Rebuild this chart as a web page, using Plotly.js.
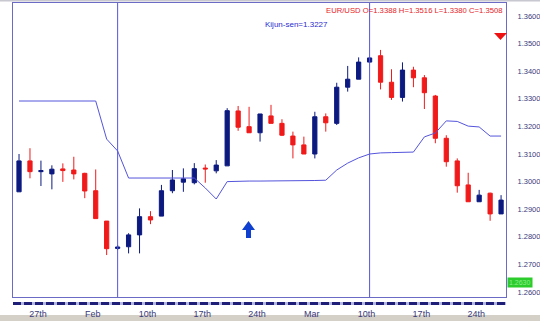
<!DOCTYPE html>
<html>
<head>
<meta charset="utf-8">
<script src="https://cdn.plot.ly/plotly-3.0.1.min.js"></script>
<style>html,body{margin:0;padding:0;background:#fff;}#chart{width:540px;height:321px;}</style>
</head>
<body>
<div id="chart"></div>
<script>
// ---- data ----
const dates = ['2003-01-23','2003-01-24','2003-01-27','2003-01-28','2003-01-29','2003-01-30','2003-01-31',
  '2003-02-03','2003-02-04','2003-02-05','2003-02-06','2003-02-07',
  '2003-02-10','2003-02-11','2003-02-12','2003-02-13','2003-02-14',
  '2003-02-17','2003-02-18','2003-02-19','2003-02-20','2003-02-21',
  '2003-02-24','2003-02-25','2003-02-26','2003-02-27','2003-02-28',
  '2003-03-03','2003-03-04','2003-03-05','2003-03-06','2003-03-07',
  '2003-03-10','2003-03-11','2003-03-12','2003-03-13','2003-03-14',
  '2003-03-17','2003-03-18','2003-03-19','2003-03-20','2003-03-21',
  '2003-03-24','2003-03-25','2003-03-26'];
const openP = [1.2963,1.3075,1.3036,1.3028,1.3046,1.3042,1.3030,1.2967,1.2857,1.2758,1.2764,1.2807,1.2873,1.2875,1.2967,1.2998,1.2996,1.3049,1.3039,1.3057,1.3256,1.3199,1.3177,1.3238,1.3211,1.3165,1.3133,1.3100,1.3235,1.3211,1.3342,1.3371,1.3433,1.3456,1.3360,1.3305,1.3404,1.3376,1.3310,1.3157,1.3075,1.2988,1.2927,1.2958,1.2883];
const highP = [1.3100,1.3121,1.3076,1.3059,1.3066,1.3090,1.3032,1.3044,1.2857,1.2770,1.2813,1.2903,1.2893,1.2988,1.3042,1.3048,1.3067,1.3062,1.3078,1.3266,1.3274,1.3271,1.3245,1.3278,1.3226,1.3181,1.3163,1.3253,1.3247,1.3358,1.3419,1.3450,1.3452,1.3477,1.3407,1.3432,1.3416,1.3386,1.3314,1.3168,1.3084,1.3032,1.2970,1.2960,1.2951];
const lowP = [1.2963,1.3012,1.2984,1.2972,1.2999,1.3008,1.2940,1.2866,1.2734,1.2752,1.2740,1.2740,1.2846,1.2875,1.2958,1.2963,1.2990,1.2996,1.3030,1.3057,1.3184,1.3177,1.3145,1.3211,1.3165,1.3084,1.3100,1.3084,1.3181,1.3205,1.3326,1.3371,1.3430,1.3334,1.3296,1.3290,1.3342,1.3263,1.3139,1.3054,1.2960,1.2927,1.2927,1.2858,1.2883];
const closeP = [1.3075,1.3036,1.3040,1.3045,1.3040,1.3028,1.2966,1.2866,1.2757,1.2763,1.2807,1.2873,1.2861,1.2967,1.3006,1.3010,1.3047,1.3046,1.3060,1.3257,1.3197,1.3177,1.3245,1.3211,1.3168,1.3133,1.3100,1.3235,1.3213,1.3342,1.3371,1.3433,1.3448,1.3360,1.3305,1.3404,1.3376,1.3322,1.3157,1.3072,1.2985,1.2927,1.2951,1.2883,1.2933];
const kijun = [1.3292,1.3292,1.3292,1.3292,1.3292,1.3292,1.3292,1.3292,1.3154,1.3111,1.3013,1.3013,1.3013,1.3013,1.3013,1.3013,1.3013,1.2977,1.2937,1.3000,1.3002,1.3002,1.3002,1.3002,1.3002,1.3004,1.3004,1.3004,1.3005,1.3042,1.3067,1.3086,1.3100,1.3104,1.3105,1.3105,1.3107,1.3162,1.3176,1.3220,1.3218,1.3201,1.3198,1.3165,1.3165];
const xTickDates = ['2003-01-27','2003-02-03','2003-02-10','2003-02-17','2003-02-24','2003-03-03','2003-03-10','2003-03-17','2003-03-24'];
const xTickLabels = ['27th','Feb','10th','17th','24th','Mar','10th','17th','24th'];
const yTickVals = [1.26,1.27,1.28,1.29,1.30,1.31,1.32,1.33,1.34,1.35,1.36];
const markerDates = ['2003-02-05','2003-03-10'];
const headerText = 'EUR/USD O=1.3388 H=1.3516 L=1.3380 C=1.3508';
const kijunText = 'Kijun-sen=1.3227';
const priceTag = '1.2630';

// ---- helpers for decorations (pixel -> paper) ----
const L = 13, R = 506, T = 3, B = 297;
const px = x => (x - L) / (R - L);
const py = y => (B - y) / (B - T);
const path = pts => 'M ' + pts.map(p => px(p[0]).toFixed(4) + ',' + py(p[1]).toFixed(4)).join(' L ') + ' Z';

const blue = '#0c1a80', red = '#f01a1a', lineBlue = '#5454dc';

const traces = [
  {
    type: 'candlestick', x: dates, open: openP, high: highP, low: lowP, close: closeP,
    increasing: {line: {color: blue, width: 1}, fillcolor: blue},
    decreasing: {line: {color: red, width: 1}, fillcolor: red},
    whiskerwidth: 0, hoverinfo: 'none', showlegend: false
  },
  {
    type: 'scatter', mode: 'lines', x: dates, y: kijun,
    line: {color: lineBlue, width: 1}, hoverinfo: 'none', showlegend: false
  }
];

const shapes = markerDates.map(d => ({
  type: 'line', xref: 'x', yref: 'paper', x0: d, x1: d, y0: 0, y1: 1,
  line: {color: lineBlue, width: 1}
}));
shapes.push(
  {type: 'line', xref: 'paper', yref: 'paper', x0: 0, x1: 1, y0: py(303.5), y1: py(303.5), line: {color: '#b4b8e0', width: 3}},
  {type: 'line', xref: 'paper', yref: 'paper', x0: 0, x1: 1, y0: py(303.5), y1: py(303.5), line: {color: '#1e1e78', width: 3, dash: '8px,3px'}},
  {type: 'path', xref: 'paper', yref: 'paper', path: path([[494,33],[507,33],[500.5,40]]), fillcolor: '#ee1111', line: {width: 0}},
  {type: 'path', xref: 'paper', yref: 'paper', path: path([[242,230],[248.5,221],[255,230],[251,230],[251,238],[246,238],[246,230]]), fillcolor: '#1040d0', line: {width: 0}},
  {type: 'rect', xref: 'paper', yref: 'paper', x0: px(0), x1: px(540), y0: py(315), y1: py(321), fillcolor: '#d4d0c8', line: {width: 0}, layer: 'below'},
  {type: 'rect', xref: 'paper', yref: 'paper', x0: px(0), x1: px(540), y0: py(0), y1: py(1.5), fillcolor: '#c8c8d0', line: {width: 0}, layer: 'below'}
);

const layout = {
  width: 540, height: 321,
  margin: {l: L, r: 540 - R, t: T, b: 321 - B, pad: 0},
  paper_bgcolor: '#ffffff', plot_bgcolor: '#ffffff',
  showlegend: false, dragmode: false, boxgap: 0.45,
  xaxis: {
    type: 'category', range: [-0.55, 44.45], rangeslider: {visible: false},
    tickvals: xTickDates, ticktext: xTickLabels, ticks: '', showgrid: false,
    showline: true, mirror: true, linecolor: '#6b6bc6', linewidth: 1,
    tickfont: {family: 'Liberation Sans, Arial, sans-serif', size: 9, color: '#3a3a7a'},
    ticklabelstandoff: 8, ticklabelshift: -3, fixedrange: true, zeroline: false
  },
  yaxis: {
    side: 'right', range: [1.2582, 1.3647], tickvals: yTickVals, tickformat: '.4f',
    ticks: '', showgrid: false, zeroline: false,
    showline: true, mirror: true, linecolor: '#6b6bc6', linewidth: 1,
    tickfont: {family: 'Liberation Sans, Arial, sans-serif', size: 7.5, color: '#3a3a7a'},
    ticklabelstandoff: 9, fixedrange: true
  },
  shapes: shapes,
  annotations: [
    {xref: 'paper', yref: 'paper', x: px(505), y: py(10), xanchor: 'right', yanchor: 'middle', showarrow: false,
     text: headerText, font: {family: 'Liberation Sans, Arial, sans-serif', size: 7.7, color: '#e8231f'}},
    {xref: 'paper', yref: 'paper', x: px(296), y: py(25), xanchor: 'center', yanchor: 'middle', showarrow: false,
     text: kijunText, font: {family: 'Liberation Sans, Arial, sans-serif', size: 8, color: '#2b2bd0'}},
    {xref: 'paper', yref: 'paper', x: px(519.5), y: py(282.5), xanchor: 'center', yanchor: 'middle', showarrow: false,
     text: priceTag, bgcolor: '#2ccc2c', borderpad: 1, font: {family: 'Liberation Sans, Arial, sans-serif', size: 7, color: '#8cee8c'}}
  ]
};

Plotly.newPlot('chart', traces, layout, {staticPlot: true, displayModeBar: false});
</script>
</body>
</html>
